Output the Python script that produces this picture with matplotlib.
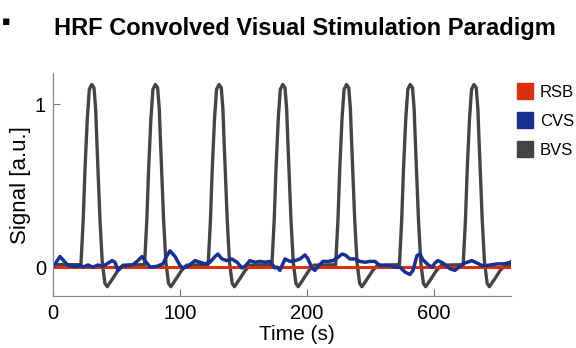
import numpy as np
import matplotlib.pyplot as plt
from matplotlib.lines import Line2D

plt.rcParams['font.family'] = ['Liberation Sans', 'DejaVu Sans']

# RSB: resting state baseline, flat at zero
rsb_t = [0, 360]
rsb_v = [0.0, 0.0]

# CVS
cvs_t = [0, 5.5, 11.8, 15.7, 19.7, 21.3, 23.6, 27.6, 31.5, 35.4, 39.4, 42.5, 46.5, 48.8,
         51.2, 54.3, 58.3, 63.0, 66.9, 70.1, 72.4, 76.4, 81.9, 86.6, 89.0, 92.1, 96.1, 100.0,
         102.4, 106.3, 111.8, 115.7, 119.7, 123.6, 127.6, 129.9, 133.1, 137.0, 140.9, 144.9,
         148.8, 151.2, 155.1, 159.1, 163.0, 166.9, 170.9, 174.8, 176.4, 178.7, 182.7, 186.6,
         190.6, 194.5, 198.4, 200.8, 203.9, 206.3, 208.7, 212.6, 216.5, 220.5, 224.4, 227.6,
         229.9, 233.9, 237.8, 241.7, 245.7, 249.6, 253.5, 257.5, 261.4, 265.4, 269.3, 273.2,
         277.2, 281.1, 283.5, 286.6, 289.0, 291.3, 295.3, 298.4, 300.8, 303.1, 307.1, 309.4,
         312.6, 316.5, 320.5, 324.4, 329.9, 333.9, 337.8, 341.7, 345.7, 350.4, 355.9, 359.8]
cvs_v = [0.0, 0.065, 0.01, 0.005, 0.005, 0.013, 0.0, 0.013, 0.0, 0.013, 0.005, 0.02, 0.04, 0.03,
         -0.02, 0.005, 0.01, 0.015, 0.04, 0.065, 0.04, 0.0, 0.005, 0.02, 0.06, 0.1, 0.065, 0.01,
         -0.005, 0.005, 0.04, 0.03, 0.02, 0.03, 0.065, 0.08, 0.05, 0.04, 0.05, 0.03,
         -0.005, 0.005, 0.04, 0.03, 0.035, 0.03, 0.035, -0.005, 0.0, -0.02, 0.05, 0.035,
         0.04, 0.05, 0.075, 0.05, -0.005, -0.02, 0.005, 0.035, 0.035, 0.04, 0.06, 0.08,
         0.075, 0.05, 0.05, 0.035, 0.03, 0.035, 0.035, 0.01, 0.01, 0.01, 0.0, 0.0,
         -0.03, -0.045, -0.02, 0.07, 0.08, 0.045, 0.015, 0.0, 0.025, 0.04, 0.025, 0.01,
         -0.01, -0.02, 0.005, 0.025, 0.04, 0.025, 0.01, 0.01, 0.015, 0.02, 0.02, 0.03]

# BVS: block design convolved with HRF, seven blocks
bvs_t = [0,
         22.0, 23.8, 25.2, 27.0, 28.6, 30.5, 32.3, 33.6, 34.4, 37.0, 38.8, 40.9, 42.7, 46.2, 51.2, 55.1,
         72.1, 73.9, 75.3, 77.1, 78.7, 80.6, 82.4, 83.7, 84.5, 87.1, 88.9, 91.0, 92.8, 96.3, 101.3, 105.2,
         122.2, 124.0, 125.4, 127.2, 128.8, 130.7, 132.5, 133.8, 134.6, 137.2, 139.0, 141.1, 142.9, 146.4, 151.4, 155.3,
         172.4, 174.2, 175.6, 177.4, 179.0, 180.9, 182.7, 184.0, 184.8, 187.4, 189.2, 191.3, 193.1, 196.6, 201.6, 205.5,
         222.6, 224.4, 225.8, 227.6, 229.2, 231.1, 232.9, 234.2, 235.0, 237.6, 239.4, 241.5, 243.3, 246.8, 251.8, 255.7,
         272.8, 274.6, 276.0, 277.8, 279.4, 281.3, 283.1, 284.4, 285.2, 287.8, 289.6, 291.7, 293.5, 297.0, 302.0, 305.9,
         323.0, 324.8, 326.2, 328.0, 329.6, 331.5, 333.3, 334.6, 335.4, 338.0, 339.8, 341.9, 343.7, 347.2, 352.2, 356.1,
         360]
bvs_v = [0.015,
         0.015, 0.29, 0.6, 0.91, 1.09, 1.12, 1.10, 0.97, 0.80, 0.29, 0.03, -0.10, -0.12, -0.08, -0.02, 0.012,
         0.015, 0.29, 0.6, 0.91, 1.09, 1.12, 1.10, 0.97, 0.80, 0.29, 0.03, -0.10, -0.12, -0.08, -0.02, 0.012,
         0.015, 0.29, 0.6, 0.91, 1.09, 1.12, 1.10, 0.97, 0.80, 0.29, 0.03, -0.10, -0.12, -0.08, -0.02, 0.012,
         0.015, 0.29, 0.6, 0.91, 1.09, 1.12, 1.10, 0.97, 0.80, 0.29, 0.03, -0.10, -0.12, -0.08, -0.02, 0.012,
         0.015, 0.29, 0.6, 0.91, 1.09, 1.12, 1.10, 0.97, 0.80, 0.29, 0.03, -0.10, -0.12, -0.08, -0.02, 0.012,
         0.015, 0.29, 0.6, 0.91, 1.09, 1.12, 1.10, 0.97, 0.80, 0.29, 0.03, -0.10, -0.12, -0.08, -0.02, 0.012,
         0.015, 0.29, 0.6, 0.91, 1.09, 1.12, 1.10, 0.97, 0.80, 0.29, 0.03, -0.10, -0.12, -0.08, -0.02, 0.012,
         0.015]

xticks = [0, 100, 200, 300]
xtick_labels = ['0', '100', '200', '600']
yticks = [0, 1]

c_rsb = '#d9300f'
c_cvs = '#18308f'
c_bvs = '#444444'

fig = plt.figure(figsize=(5.76, 3.48), dpi=100)
ax = fig.add_axes([0.092, 0.149, 0.795, 0.641])

ax.plot(bvs_t, bvs_v, color=c_bvs, lw=2.4, solid_joinstyle='round')
ax.plot(rsb_t, rsb_v, color=c_rsb, lw=2.2)
ax.plot(cvs_t, cvs_v, color=c_cvs, lw=2.5, solid_joinstyle='round')

ax.set_xlim(0, 360.6)
ax.set_ylim(-0.178, 1.19)
ax.set_xticks(xticks)
ax.set_xticklabels(xtick_labels)
ax.set_yticks(yticks)
ax.tick_params(direction='in', length=5, width=0.8, color='#777777', labelsize=14.5, pad=5)
ax.tick_params(axis='x', pad=6)
for s in ['top', 'right']:
    ax.spines[s].set_visible(False)
for s in ['left', 'bottom']:
    ax.spines[s].set_color('#888888')
    ax.spines[s].set_linewidth(0.9)

ax.set_xlabel('Time (s)', fontsize=15)
ax.xaxis.set_label_coords(0.533, -0.13)
ax.set_ylabel('Signal [a.u.]', fontsize=16, labelpad=3)

fig.text(0.529, 0.918, 'HRF Convolved Visual Stimulation Paradigm', fontsize=17,
         fontweight='bold', ha='center', va='center')
fig.text(0.01, 0.937, '\u25aa', fontsize=9, ha='center', va='center', family=['DejaVu Sans'])

handles = [Line2D([], [], ls='none', marker='s', markersize=11, color=c, label=l)
           for c, l in zip([c_rsb, c_cvs, c_bvs], ['RSB', 'CVS', 'BVS'])]
ax.legend(handles=handles, loc='upper left', bbox_to_anchor=(0.884, 0.78),
          bbox_transform=fig.transFigure, frameon=False, fontsize=12,
          handlelength=0.9, handletextpad=0.45, labelspacing=0.85, borderpad=0)

fig.savefig('out.png', dpi=100)
